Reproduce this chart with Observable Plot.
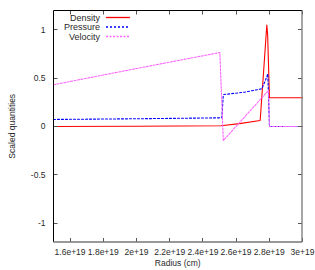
<!DOCTYPE html>
<html><head><meta charset="utf-8">
<script src="https://cdn.jsdelivr.net/npm/d3@7"></script>
<script src="https://cdn.jsdelivr.net/npm/@observablehq/plot@0.6"></script>
<style>body{margin:0;background:#fff} svg{display:block}</style>
</head><body><div id="chart"></div>
<script>
// Radius in cm
const densityR   = [1.5e19, 2.0e19, 2.51e19, 2.62e19, 2.745e19, 2.765e19, 2.785e19, 2.79e19, 2.801e19, 3.0e19];
const densityV   = [0.0,    0.003,  0.008,   0.03,    0.062,    0.55,     1.05,     0.95,    0.297,    0.297];
const pressureR  = [1.5e19, 2.0e19, 2.514e19, 2.523e19, 2.65e19, 2.755e19, 2.775e19, 2.791e19, 2.801e19, 3.0e19];
const pressureV  = [0.073,  0.08,   0.09,     0.33,     0.355,   0.39,     0.47,     0.545,    0.0,      0.0];
const velocityR  = [1.5e19, 2.0e19, 2.502e19, 2.523e19, 2.795e19, 2.801e19, 3.0e19];
const velocityV  = [0.432,  0.6,    0.765,    -0.145,   0.373,    0.0,      0.0];
const seriesNames = ["Density", "Pressure", "Velocity"];
const xTicks = [1.6e19, 1.8e19, 2.0e19, 2.2e19, 2.4e19, 2.6e19, 2.8e19, 3.0e19];
const xTickLabels = ["1.6e+19", "1.8e+19", "2e+19", "2.2e+19", "2.4e+19", "2.6e+19", "2.8e+19", "3e+19"];
const yTicks = [-1, -0.5, 0, 0.5, 1];
const yTickLabels = ["-1", "-0.5", "0", "0.5", "1"];
const xLabel = "Radius (cm)";
const yLabel = "Scaled quantities";

const colors = {Density: "#ff0000", Pressure: "#0000ff", Velocity: "#ff66ff"};
const dashes = {Density: null, Pressure: "2,2", Velocity: "2,1.5"};

const toRows = (name, rs, vs) => rs.map((r, i) => ({series: name, r, v: vs[i]}));
const tables = {
  Density: toRows("Density", densityR, densityV),
  Pressure: toRows("Pressure", pressureR, pressureV),
  Velocity: toRows("Velocity", velocityR, velocityV)
};

const W = 315, H = 270, mL = 53, mR = 13, mT = 10, mB = 28;
const font = "Liberation Sans, Arial, sans-serif";
const textColor = "#2a2a2a";

const plot = Plot.plot({
  width: W, height: H,
  marginLeft: mL, marginRight: mR, marginTop: mT, marginBottom: mB,
  style: {fontFamily: font, fontSize: "8.5px", background: "#fff", color: textColor},
  x: {domain: [1.5e19, 3.0e19]},
  y: {domain: [-1.2, 1.2]},
  marks: [
    Plot.axisX({ticks: xTicks, tickSize: 0, tickPadding: 6, fontSize: 8.5,
      tickFormat: d => xTickLabels[xTicks.indexOf(d)], label: null}),
    Plot.axisY({ticks: yTicks, tickSize: 0, tickPadding: 8, fontSize: 8.5,
      tickFormat: d => yTickLabels[yTicks.indexOf(d)], label: null}),
    ...seriesNames.map(s => Plot.line(tables[s], {
      x: "r", y: "v", stroke: colors[s], strokeWidth: 1.1,
      strokeDasharray: dashes[s] || undefined
    }))
  ]
});

const svg = d3.select(plot);
const sx = plot.scale("x"), sy = plot.scale("y");
const g = svg.append("g");
const L = mL + 0.5, T = mT + 0.5, R = W - mR, B = H - mB;
// inward ticks (mirrored)
xTicks.forEach(t => {
  const x = Math.round(sx.apply(t)) + 0.5;
  g.append("line").attr("x1", x).attr("x2", x).attr("y1", B).attr("y2", B - 4).attr("stroke", "#555");
  g.append("line").attr("x1", x).attr("x2", x).attr("y1", T).attr("y2", T + 4).attr("stroke", "#555");
});
yTicks.forEach(t => {
  const y = Math.round(sy.apply(t)) + 0.5;
  g.append("line").attr("x1", L).attr("x2", L + 4).attr("y1", y).attr("y2", y).attr("stroke", "#555");
  g.append("line").attr("x1", R).attr("x2", R - 4).attr("y1", y).attr("y2", y).attr("stroke", "#555");
});
// frame
g.append("line").attr("x1", L).attr("x2", L).attr("y1", T).attr("y2", B).attr("stroke", "#000");
g.append("line").attr("x1", L).attr("x2", R).attr("y1", T).attr("y2", T).attr("stroke", "#000");
g.append("line").attr("x1", R).attr("x2", R).attr("y1", T).attr("y2", B).attr("stroke", "#777").attr("stroke-width", 1.3);
g.append("line").attr("x1", L).attr("x2", R).attr("y1", B).attr("y2", B).attr("stroke", "#777").attr("stroke-width", 1.3);
// axis labels
g.append("text").attr("x", (L + R) / 2).attr("y", 266).attr("text-anchor", "middle")
  .attr("font-family", font).attr("font-size", 8.5).attr("fill", textColor).text(xLabel);
g.append("text").attr("transform", `translate(15,${(T + B) / 2}) rotate(-90)`).attr("text-anchor", "middle")
  .attr("font-family", font).attr("font-size", 8.5).attr("fill", textColor).text(yLabel);
// legend
seriesNames.forEach((s, i) => {
  const y = 17.5 + i * 9.5;
  g.append("text").attr("x", 100).attr("y", y).attr("dy", "0.35em").attr("text-anchor", "end")
    .attr("font-family", font).attr("font-size", 9).attr("fill", textColor).text(s);
  const ln = g.append("line").attr("x1", 106).attr("x2", 130).attr("y1", y).attr("y2", y)
    .attr("stroke", colors[s]).attr("stroke-width", 1.3);
  if (dashes[s]) ln.attr("stroke-dasharray", dashes[s]);
});

document.getElementById("chart").appendChild(plot);
</script>
</body></html>
